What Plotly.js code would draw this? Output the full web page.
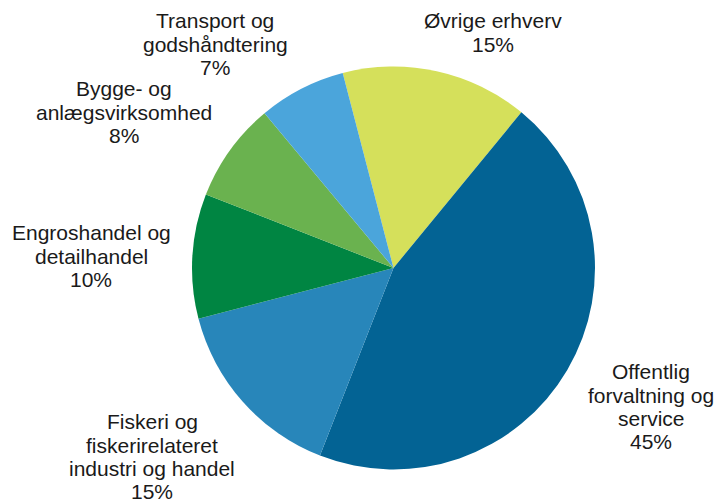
<!DOCTYPE html>
<html>
<head>
<meta charset="utf-8">
<script src="https://cdn.plot.ly/plotly-3.0.1.min.js"></script>
<style>
html,body{margin:0;padding:0;background:#fff;}
#chart{width:717px;height:504px;}
</style>
</head>
<body>
<div id="chart"></div>
<script>
// Data
var categories = [
  "Øvrige erhverv",
  "Offentlig<br>forvaltning og<br>service",
  "Fiskeri og<br>fiskerirelateret<br>industri og handel",
  "Engroshandel og<br>detailhandel",
  "Bygge- og<br>anlægsvirksomhed",
  "Transport og<br>godshåndtering"
];
var shares = [15, 45, 15, 10, 8, 7];
var colors = ["#D5E05B", "#036394", "#2886BA", "#008542", "#6AB24F", "#4BA5DB"];

// Label layout (pixel centre x, first-line baseline y)
var W = 717, H = 504;
var labelX = [493, 651, 152, 91, 124, 215];
var labelY0 = [28, 379, 429, 240, 96, 28];
var lineStep = 23.3;
var fontSize = 21;

var annotations = [];
categories.forEach(function(cat, i) {
  var lines = cat.split("<br>");
  lines.push(shares[i] + "%");
  lines.forEach(function(line, j) {
    var base = labelY0[i] + j * lineStep;
    var yc = base - 7.3;
    annotations.push({
      text: line,
      xref: "paper", yref: "paper",
      x: labelX[i] / W,
      y: 1 - yc / H,
      xanchor: "center", yanchor: "middle",
      showarrow: false,
      font: {family: "Liberation Sans, Arial, sans-serif", size: fontSize, color: "#1a1a1a"}
    });
  });
});

var cx = 393.5, cy = 268, r = 201.5;
var trace = {
  type: "pie",
  values: shares,
  labels: categories,
  sort: false,
  direction: "clockwise",
  rotation: -14.6,
  textinfo: "none",
  textposition: "none",
  hoverinfo: "none",
  marker: {colors: colors, line: {width: 0}},
  domain: {
    x: [(cx - r) / W, (cx + r) / W],
    y: [1 - (cy + r) / H, 1 - (cy - r) / H]
  },
  showlegend: false
};

var layout = {
  width: W, height: H,
  margin: {l: 0, r: 0, t: 0, b: 0},
  paper_bgcolor: "#ffffff",
  plot_bgcolor: "#ffffff",
  showlegend: false,
  annotations: annotations
};

Plotly.newPlot("chart", [trace], layout, {displayModeBar: false, staticPlot: true});
</script>
</body>
</html>
